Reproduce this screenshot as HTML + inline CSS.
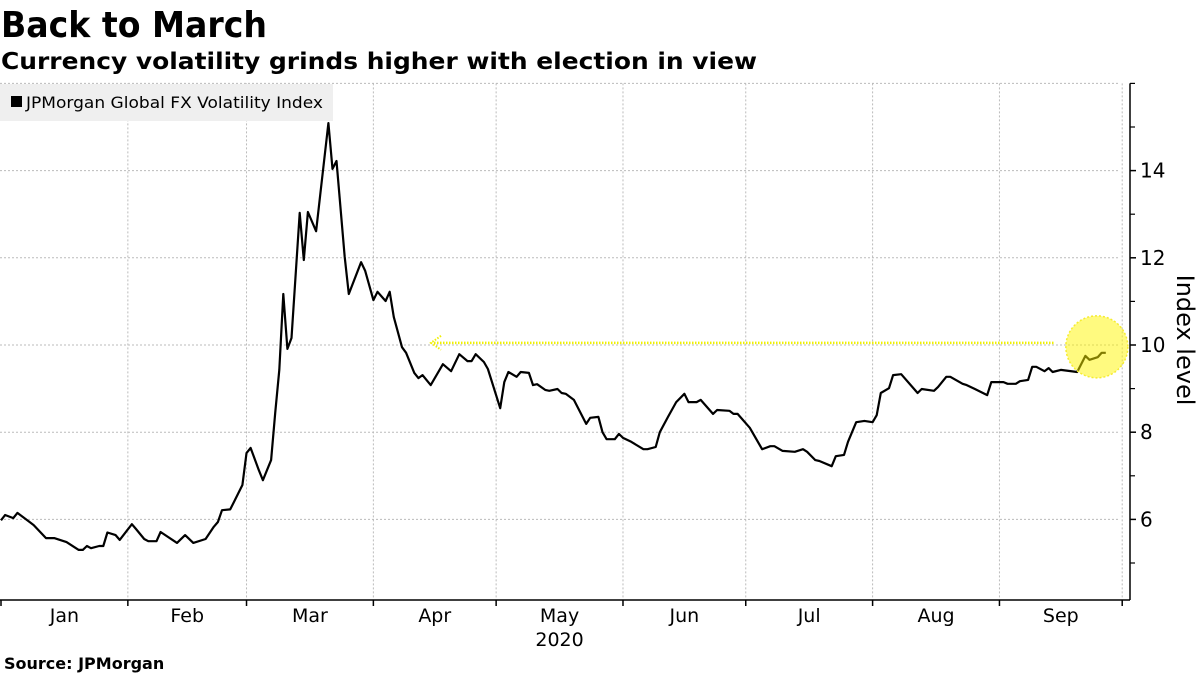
<!DOCTYPE html>
<html><head><meta charset="utf-8"><style>
html,body{margin:0;padding:0;background:#fff;}
svg{display:block;}
</style></head><body>
<svg id="chart" width="1200" height="675" viewBox="0 0 1200 675" xmlns="http://www.w3.org/2000/svg" font-family="'DejaVu Sans','Liberation Sans',sans-serif">
<text x="1" y="37" font-size="36" font-weight="bold" textLength="266" lengthAdjust="spacingAndGlyphs">Back to March</text>
<text x="1" y="69" font-size="23" font-weight="bold" textLength="756" lengthAdjust="spacingAndGlyphs">Currency volatility grinds higher with election in view</text>
<g id="grid"></g>
<g id="axes"></g>
<rect x="0" y="84" width="333" height="37" fill="#efefef"/>
<rect x="11" y="96" width="11" height="11" fill="#000"/>
<text x="26" y="108" font-size="16" textLength="297" lengthAdjust="spacingAndGlyphs">JPMorgan Global FX Volatility Index</text>
<g id="series"></g>
<g id="annot"></g>
<text transform="translate(1177,340) rotate(90)" font-size="24" text-anchor="middle">Index level</text>
<text x="4" y="669" font-size="16" font-weight="bold">Source: JPMorgan</text>
</svg>
<script>
const days = [0,1,3,4,7,8,11,13,16,19,20,21,22,24,25,26,28,29,32,33,35,36,38,39,43,45,47,50,52,53,54,56,57,59,60,61,63,64,66,67,68,69,70,71,73,74,75,77,78,80,81,82,84,85,88,89,91,92,94,95,96,98,99,101,102,103,105,108,110,112,114,115,116,118,119,122,123,124,126,127,129,130,131,133,134,136,137,138,140,143,144,146,147,148,150,151,152,154,157,158,160,161,163,165,167,168,170,171,174,175,178,179,180,183,186,188,189,191,194,196,197,199,200,203,204,206,207,209,211,213,214,215,217,218,220,224,225,228,229,231,232,235,236,238,241,242,245,246,248,249,251,252,253,255,256,257,259,263,265,266,268,269,270];
const values = [5.98,6.1,6.03,6.15,5.94,5.87,5.57,5.57,5.48,5.3,5.3,5.39,5.34,5.39,5.39,5.7,5.64,5.53,5.89,5.78,5.55,5.5,5.5,5.71,5.46,5.64,5.46,5.55,5.83,5.94,6.21,6.23,6.41,6.79,7.52,7.64,7.13,6.9,7.36,8.44,9.43,11.17,9.91,10.16,13.03,11.95,13.05,12.61,13.44,15.09,14.04,14.22,12.02,11.17,11.9,11.7,11.03,11.22,11.01,11.22,10.64,9.95,9.82,9.36,9.24,9.31,9.08,9.56,9.4,9.79,9.63,9.63,9.79,9.61,9.45,8.55,9.15,9.38,9.27,9.38,9.36,9.08,9.1,8.97,8.95,8.99,8.9,8.88,8.74,8.19,8.33,8.35,8.0,7.84,7.84,7.96,7.87,7.78,7.61,7.61,7.66,8.0,8.35,8.69,8.88,8.69,8.69,8.74,8.42,8.51,8.49,8.42,8.42,8.1,7.61,7.68,7.68,7.57,7.55,7.61,7.55,7.36,7.34,7.22,7.45,7.48,7.78,8.23,8.26,8.23,8.39,8.9,9.01,9.31,9.33,8.9,8.99,8.95,9.04,9.27,9.27,9.11,9.08,8.99,8.85,9.15,9.15,9.11,9.11,9.17,9.2,9.5,9.5,9.4,9.47,9.38,9.43,9.38,9.75,9.66,9.72,9.82,9.82];
const monthLabels = ["Jan","Feb","Mar","Apr","May","Jun","Jul","Aug","Sep"];
const monthStarts = [0,31,60,91,121,152,182,213,244,274];
const yTicks = [6,8,10,12,14];
const yMinor = [5,7,9,11,13,15,16];
const annotLevel = 10.05;

const NS="http://www.w3.org/2000/svg";
const X0=1, PXD=4.092, Y10=345, PXU=43.6;
const xS=d=>X0+d*PXD;
const yS=v=>Y10-(v-10)*PXU;
function mk(t,a,p){const e=document.createElementNS(NS,t);for(const k in a)e.setAttribute(k,a[k]);p.appendChild(e);return e;}
const grid=document.getElementById('grid'),axes=document.getElementById('axes'),series=document.getElementById('series'),annot=document.getElementById('annot');
const yTop=yS(16), bot=600, right=1130;
[...yTicks,16].forEach(v=>{
  const l=mk('line',{x1:0,x2:1120,y1:yS(v),y2:yS(v),stroke:'#bbb','stroke-width':1,'stroke-dasharray':'2,2'},grid);
  
  
});
monthStarts.forEach(d=>{
  const x=xS(d);
  if(d>0){const g=mk('line',{x1:x,x2:x,y1:yTop,y2:bot,stroke:'#bbb','stroke-width':1,'stroke-dasharray':'2,2'},grid);
  
  }
  const t=mk('line',{x1:x,x2:x,y1:bot,y2:bot+6,stroke:'#000','stroke-width':1.5},axes);
  
  
});
monthLabels.forEach((m,i)=>{
  const cx=(xS(monthStarts[i])+xS(monthStarts[i+1]))/2;
  const t=mk('text',{x:cx,y:622,'font-size':19,'text-anchor':'middle'},axes);
  t.textContent=m;
  
  
});
const yr=mk('text',{x:(xS(121)+xS(152))/2,y:646,'font-size':19,'text-anchor':'middle'},axes);
yr.textContent='2020';


const xa=mk('line',{x1:0,x2:right,y1:bot,y2:bot,stroke:'#000','stroke-width':1.5},axes);


const ya=mk('line',{x1:right,x2:right,y1:yTop,y2:bot,stroke:'#000','stroke-width':1.5},axes);


yTicks.forEach(v=>{
  const t=mk('line',{x1:right,x2:right+6,y1:yS(v),y2:yS(v),stroke:'#000','stroke-width':1.5},axes);
  
  
  const l=mk('text',{x:right+10,y:yS(v)+7,'font-size':20},axes);
  l.textContent=v;
  
  
});
yMinor.forEach(v=>{
  const t=mk('line',{x1:right,x2:right+5,y1:yS(v),y2:yS(v),stroke:'#000','stroke-width':1.2},axes);
  
  
});
const pts=days.map((d,i)=>xS(d).toFixed(1)+','+yS(values[i]).toFixed(1)).join(' ');
const pl=mk('polyline',{points:pts,fill:'none',stroke:'#000','stroke-width':2.2,'stroke-linejoin':'round'},series);


const ay=yS(annotLevel);
const al=mk('line',{x1:434,x2:1055,y1:ay,y2:ay,stroke:'#f0f000','stroke-width':2.5,'stroke-dasharray':'1.5,1.5'},annot);


const ah=mk('polyline',{points:`441,${ay-7} 431,${ay} 441,${ay+7}`,fill:'none',stroke:'#f0f000','stroke-width':2,'stroke-dasharray':'1.5,1.5'},annot);


const last=days.length-1;
const ci=mk('circle',{cx:xS(days[last])-9,cy:yS(values[last])-6,r:31,fill:'rgba(255,245,0,0.5)',stroke:'#f5ec30','stroke-width':1.5,'stroke-dasharray':'2,2'},annot);


</script>
</body></html>
